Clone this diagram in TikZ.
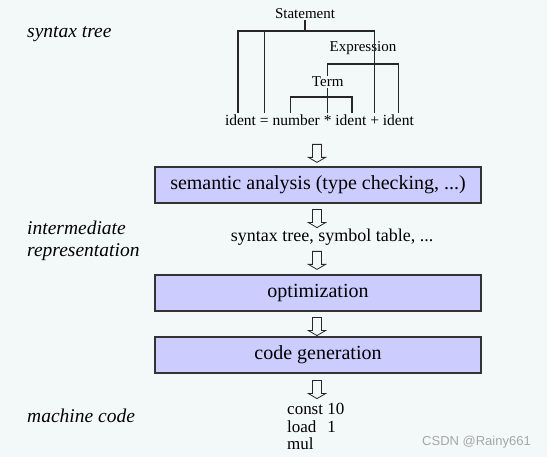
\documentclass[tikz,border=0pt]{standalone}
\usepackage{fontspec}
\setmainfont{Liberation Serif}
\newfontfamily\wmfont{Liberation Sans}
\usetikzlibrary{calc}

\definecolor{boxfill}{RGB}{204,204,255}
\definecolor{bgdots}{RGB}{243,249,249}

\tikzset{
  stage/.style={draw=black!80, fill=boxfill, line width=1.2pt, minimum width=326pt,
    minimum height=36pt, font=\fontsize{20}{24}\selectfont},
  leaf/.style={anchor=base, inner sep=0pt, text height=13pt, font=\fontsize{15.5}{18}\selectfont},
  cat/.style={inner sep=1pt, font=\fontsize{15}{18}\selectfont},
  side/.style={anchor=base west, inner sep=0pt, font=\fontsize{19.5}{23}\selectfont\itshape},
  branch/.style={line width=1.3pt, black!85},
  hollow/.style={line width=0.8pt, black!85, line join=miter}
}
\newcommand{\downarrowat}[1]{\draw[hollow] (#1) ++(-4.5,0) -- ++(9,0) -- ++(0,13) -- ++(4,0)
  -- ++(-8.5,5) -- ++(-8.5,-5) -- ++(4,0) -- cycle;}

\begin{document}
\begin{tikzpicture}[x=1pt,y=-1pt]
      \fill[bgdots] (0,0) rectangle (547,457);
      \useasboundingbox (0,0) rectangle (547,457);
      % syntax tree
      \node[leaf] (l1) at (240.5,126) {ident};
      \node[leaf] (l2) at (264.3,126) {=};
      \node[leaf] (l3) at (296.2,126) {number};
      \node[leaf] (l4) at (327.7,126) {*};
      \node[leaf] (l5) at (350.9,126) {ident};
      \node[leaf] (l6) at (374.7,126) {+};
      \node[leaf] (l7) at (398.4,126) {ident};
      \coordinate (t1) at ($(l1.north)+(-2.5,0)$);
      \coordinate (t3) at ($(l3.north)+(-6,0)$);
      \coordinate (t5) at ($(l5.north)+(1,0)$);
      \node[cat] (stmt) at (305,14) {Statement};
      \node[cat] (expr) at (363,48) {Expression};
      \node[cat] (term) at (327.7,82) {Term};
      \coordinate (sbar) at (305,31);
      \coordinate (ebar) at (363,64);
      \coordinate (tbar) at (327.7,97);
      \draw[branch] (stmt.south) -- (sbar);
      \draw[branch] (t1) |- (sbar) -| (l6.north);
      \draw[branch] (l2.north) -- (l2.north |- sbar);
      \draw[branch] (term.north) |- (ebar) -| (l7.north);
      \draw[branch] (term.south) -- (l4.north);
      \draw[branch] (t3) |- (tbar) -| (t5);
      % phases
      \node[stage] (sem) at (318,185) {semantic analysis (type checking, ...)};
      \node[font=\fontsize{18}{22}\selectfont] (ir) at (332,237) {syntax tree, symbol table, ...};
      \node[stage] (opt) at (318,293) {optimization};
      \node[stage] (gen) at (318,355) {code generation};
      \node[anchor=base west, inner sep=0pt, font=\fontsize{17}{17.5}\selectfont] (mc) at (287,415)
        {\begin{tabular}[t]{@{}l@{\ }l@{}}const&10\\load&1\\mul&\end{tabular}};
      \downarrowat{$(sem.north)+(-1,-22)$}
      \downarrowat{$(sem.south)+(-1,6)$}
      \downarrowat{$(opt.north)+(-1,-23)$}
      \downarrowat{$(opt.south)+(-1,6)$}
      \downarrowat{$(gen.south)+(-1,7)$}
      % left labels
      \node[side] (st) at (27,38) {syntax tree};
      \node[side] (ir1) at (27,235) {intermediate};
      \node[side] (ir2) at (27,257) {representation};
      \node[side] (mcl) at (27,423) {machine code};
      \node[anchor=base west, inner sep=0pt, text=black!35, font=\wmfont\fontsize{13}{15}\selectfont] (wm)
        at (422,446) {CSDN @Rainy661};
\end{tikzpicture}
\end{document}
